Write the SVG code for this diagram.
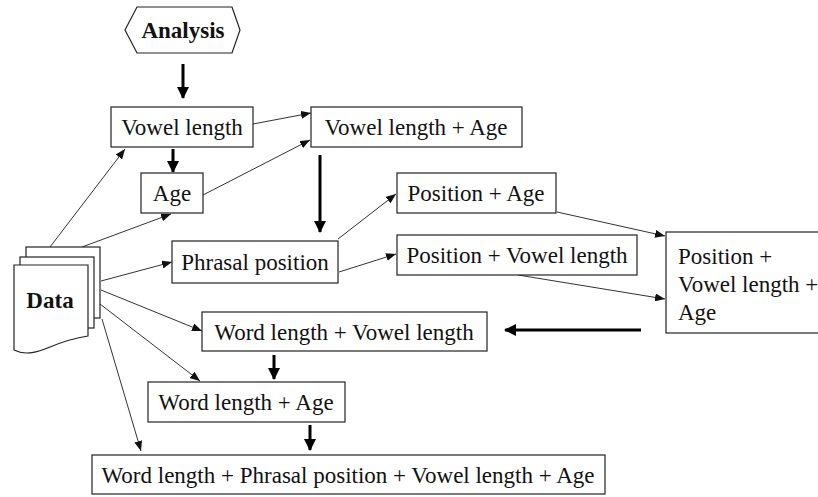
<svg xmlns="http://www.w3.org/2000/svg" width="818" height="497" viewBox="0 0 818 497">
<style>
.box{fill:#fff;stroke:#222;stroke-width:1.2}
.t{font-family:'Liberation Serif','Times New Roman',serif;font-size:23px;fill:#111}
.b{font-weight:bold}
.thin{stroke:#333;stroke-width:1;fill:none;marker-end:url(#ah)}
.thick{stroke:#000;stroke-width:3;fill:none;marker-end:url(#ahb)}
</style>
<defs>
<marker id="ah" viewBox="0 0 10 8" refX="10" refY="4" markerWidth="10" markerHeight="8" markerUnits="userSpaceOnUse" orient="auto">
<path d="M0,0 L10,4 L0,8 Z" fill="#111"/>
</marker>
<marker id="ahb" viewBox="0 0 12 12" refX="11" refY="6" markerWidth="12" markerHeight="12" markerUnits="userSpaceOnUse" orient="auto">
<path d="M0,0 L12,6 L0,12 Z" fill="#000"/>
</marker>
</defs>
<g id="connectors">
<line class="thin" x1="50" y1="247" x2="125" y2="149"/>
<line class="thin" x1="82" y1="247" x2="171" y2="214"/>
<line class="thin" x1="101" y1="281" x2="172" y2="262"/>
<line class="thin" x1="101" y1="290" x2="202" y2="331"/>
<line class="thin" x1="100" y1="304" x2="200" y2="381"/>
<line class="thin" x1="102" y1="319" x2="141" y2="451"/>
<line class="thin" x1="253" y1="124" x2="311" y2="113"/>
<line class="thin" x1="203" y1="195" x2="310" y2="140"/>
<line class="thin" x1="338" y1="239" x2="396" y2="194"/>
<line class="thin" x1="339" y1="272" x2="396" y2="254"/>
<line class="thin" x1="557" y1="212" x2="665" y2="236"/>
<line class="thin" x1="518" y1="275" x2="665" y2="299"/>
<line class="thick" x1="183" y1="64" x2="183" y2="98"/>
<line class="thick" x1="173" y1="149" x2="173" y2="172"/>
<line class="thick" x1="320" y1="155" x2="320" y2="232"/>
<line class="thick" x1="641" y1="330" x2="505" y2="330"/>
<line class="thick" x1="274" y1="355" x2="274" y2="379"/>
<line class="thick" x1="310" y1="425" x2="310" y2="450"/>
</g>
<g id="analysis">
<polygon class="box" points="125,30 137,7 232,7 240,30 232,53 137,53"/>
<text class="t b" x="183" y="38" text-anchor="middle">Analysis</text>
</g>
<g id="data">
<rect class="box" x="26" y="247" width="74" height="71"/>
<rect class="box" x="20" y="257" width="74" height="71"/>
<path class="box" d="M14,265 L88,265 L88,336 C75,338 62,342 50,347 C38,352 26,356 14,350 Z"/>
<text class="t b" x="50" y="308" text-anchor="middle">Data</text>
</g>
<g id="vowel-length">
<rect class="box" x="111" y="107" width="142" height="40"/>
<text class="t" x="182" y="135" text-anchor="middle">Vowel length</text>
</g>
<g id="vowel-length-age">
<rect class="box" x="311" y="107" width="211" height="40"/>
<text class="t" x="416" y="135" text-anchor="middle">Vowel length + Age</text>
</g>
<g id="age">
<rect class="box" x="141" y="173" width="62" height="40"/>
<text class="t" x="172" y="201" text-anchor="middle">Age</text>
</g>
<g id="phrasal-position">
<rect class="box" x="172" y="241" width="166" height="42"/>
<text class="t" x="255" y="270" text-anchor="middle">Phrasal position</text>
</g>
<g id="position-age">
<rect class="box" x="397" y="173" width="159" height="40"/>
<text class="t" x="476" y="201" text-anchor="middle">Position + Age</text>
</g>
<g id="position-vowel-length">
<rect class="box" x="397" y="235" width="240" height="40"/>
<text class="t" x="517" y="263" text-anchor="middle">Position + Vowel length</text>
</g>
<g id="position-vowel-length-age">
<rect class="box" x="666" y="232" width="170" height="101"/>
<text class="t" x="678" y="264">Position +</text>
<text class="t" x="678" y="292">Vowel length +</text>
<text class="t" x="678" y="320">Age</text>
</g>
<g id="word-length-vowel-length">
<rect class="box" x="202" y="312" width="285" height="39"/>
<text class="t" x="344" y="340" text-anchor="middle">Word length + Vowel length</text>
</g>
<g id="word-length-age">
<rect class="box" x="148" y="382" width="197" height="40"/>
<text class="t" x="246" y="410" text-anchor="middle">Word length + Age</text>
</g>
<g id="all-factors">
<rect class="box" x="92" y="455" width="513" height="39"/>
<text class="t" x="348" y="483" text-anchor="middle">Word length + Phrasal position + Vowel length + Age</text>
</g>
</svg>
